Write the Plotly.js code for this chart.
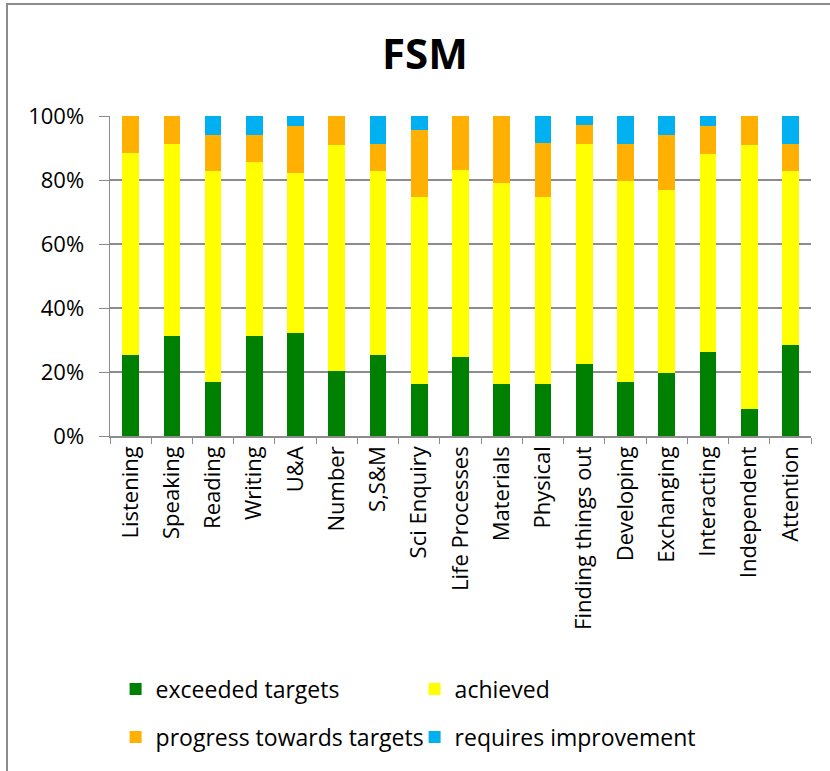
<!DOCTYPE html>
<html>
<head>
<meta charset="utf-8">
<script src="https://cdn.plot.ly/plotly-3.0.1.min.js"></script>
<style>
  body { margin: 0; background: #fff; }
  #chart { width: 830px; height: 771px; }
  #frame { position: absolute; left: 6px; top: 3px; width: 1000px; height: 1000px;
           border-left: 2px solid #8c8c8c; border-top: 2px solid #8c8c8c; pointer-events: none; }
</style>
</head>
<body>
<div id="chart"></div>
<div id="frame"></div>
<script>
// areas of learning
var areas = ["Listening", "Speaking", "Reading", "Writing", "U&A", "Number", "S,S&M",
  "Sci Enquiry", "Life Processes", "Materials", "Physical", "Finding things out",
  "Developing", "Exchanging", "Interacting", "Independent", "Attention"];

// percentage of FSM pupils in each band
var exceeded = [25.4, 31.2, 16.9, 31.2, 32.1, 20.3, 25.4, 16.4, 24.7, 16.4, 16.4, 22.6, 16.9, 19.8, 26.3, 8.5, 28.4];
var achieved = [63.0, 60.0, 65.8, 54.3, 50.1, 70.6, 57.3, 58.3, 58.4, 62.7, 58.3, 68.7, 62.8, 57.2, 61.8, 82.4, 54.3];
var progress = [11.6, 8.8, 11.4, 8.6, 14.7, 9.1, 8.6, 21.0, 16.9, 20.9, 16.8, 5.8, 11.5, 17.1, 8.8, 9.1, 8.6];
var improve  = [0, 0, 5.9, 5.9, 3.1, 0, 8.7, 4.3, 0, 0, 8.5, 2.9, 8.8, 5.9, 3.1, 0, 8.7];

var seriesNames = ["exceeded targets", "achieved", "progress towards targets", "requires improvement"];
var seriesColors = ["#008000", "#ffff00", "#ffb000", "#00b0f0"];
var seriesValues = [exceeded, achieved, progress, improve];
// two legend rows, two entries each
var seriesLegend = ["legend", "legend", "legend2", "legend2"];

var data = seriesValues.map(function (vals, i) {
  return {
    x: areas,
    y: vals,
    name: seriesNames[i],
    type: "bar",
    legend: seriesLegend[i],
    marker: { color: seriesColors[i] },
    hoverinfo: "x+y+name"
  };
});

var legendBase = {
  orientation: "h",
  x: 0.008, xanchor: "left",
  yanchor: "middle",
  entrywidth: 254,
  traceorder: "normal",
  font: { size: 23 },
  bgcolor: "rgba(0,0,0,0)"
};

var layout = {
  width: 830,
  height: 771,
  barmode: "stack",
  bargap: 0.595,
  paper_bgcolor: "#fff",
  plot_bgcolor: "#fff",
  margin: { l: 110, r: 19, t: 116, b: 335 },
  font: { family: "Open Sans, sans-serif", color: "#000" },
  title: {
    text: "<b>FSM</b>",
    font: { size: 42, color: "#000" },
    x: 0.512, xref: "container",
    y: 0.93, yref: "container", yanchor: "middle"
  },
  xaxis: {
    type: "category",
    tickangle: -90,
    tickfont: { size: 22 },
    ticks: "outside",
    tickson: "boundaries",
    ticklen: 6,
    tickcolor: "#8c8c8c",
    showline: true,
    linecolor: "#8c8c8c",
    linewidth: 1.5,
    showgrid: false
  },
  yaxis: {
    range: [0, 100],
    dtick: 20,
    ticksuffix: "%",
    tickfont: { size: 22 },
    ticks: "outside",
    ticklen: 10,
    ticklabelstandoff: 10,
    tickcolor: "#8c8c8c",
    showline: true,
    linecolor: "#8c8c8c",
    linewidth: 1.5,
    gridcolor: "#8c8c8c",
    gridwidth: 1.5,
    zeroline: false,
    fixedrange: true
  },
  showlegend: true,
  legend: Object.assign({}, legendBase, { y: (436 - 689) / 320 }),
  legend2: Object.assign({}, legendBase, { y: (436 - 737) / 320 })
};

Plotly.newPlot("chart", data, layout, { displayModeBar: false, staticPlot: true });
</script>
</body>
</html>
